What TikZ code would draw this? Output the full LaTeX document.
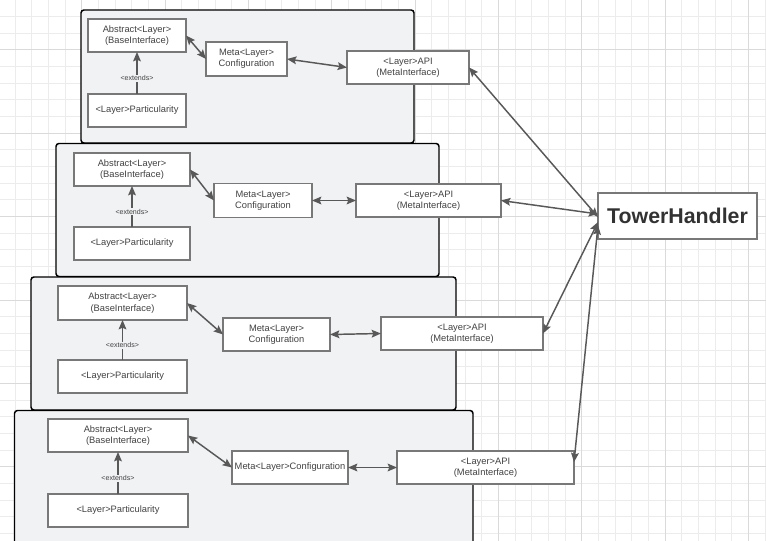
\documentclass[tikz,border=0pt]{standalone}
\usepackage{fontspec}
\setmainfont{Liberation Sans}
\usetikzlibrary{arrows.meta,calc}
\definecolor{gridminor}{RGB}{236,236,236}
\definecolor{gridmajor}{RGB}{218,218,218}
\definecolor{contfill}{RGB}{241,242,244}
\definecolor{boxline}{RGB}{120,120,120}
\definecolor{txt}{RGB}{66,66,66}
\definecolor{conncol}{RGB}{88,88,88}
\definecolor{towertxt}{RGB}{50,50,50}
\tikzset{
  box/.style 2 args={draw=boxline, line width=1pt, fill=white, inner sep=0pt, outer sep=0pt,
    minimum width=#1*0.75pt, minimum height=#2*0.75pt, align=center, text=txt,
    font=\fontsize{7}{8.6}\selectfont},
  cont/.style={draw=black, line width=1.1pt, fill=contfill, rounded corners=2.2pt},
  conn/.style={draw=conncol, line width=1.1pt,
    {Stealth[length=7pt,width=5.8pt,inset=1.2pt]}-{Stealth[length=7pt,width=5.8pt,inset=1.2pt]}},
  ext/.style={draw=conncol, line width=1.1pt, -{Stealth[length=7pt,width=5.8pt,inset=1.2pt]}},
  extlabel/.style={fill=contfill, inner sep=0.6pt, text=txt, pos=0.37,
    font=\fontsize{5.3}{6}\selectfont},
  tower/.style={draw=boxline, line width=1.5pt, fill=white, inner sep=0pt, outer sep=0pt,
    minimum width=119.25pt, minimum height=34.5pt, text=towertxt,
    font=\fontsize{16}{19}\selectfont\bfseries}
}
\begin{document}
\begin{tikzpicture}[x=0.75pt,y=-0.75pt]
\useasboundingbox (0,0) rectangle (766,541);
% grid
\foreach \gx in {-1.5,15.1667,...,770} \draw[gridminor, line width=0.75pt] (\gx,0) -- (\gx,541);
\foreach \gy in {0,16.6667,...,545} \draw[gridminor, line width=0.75pt] (0,\gy) -- (766,\gy);
\foreach \gx in {-1.5,81.8333,...,770} \draw[gridmajor, line width=0.75pt] (\gx,0) -- (\gx,541);
\foreach \gy in {50,133.3333,...,545} \draw[gridmajor, line width=0.75pt] (0,\gy) -- (766,\gy);
% containers
\draw[cont] (81,10) rectangle (414,143);
\draw[cont] (56,143.5) rectangle (439,276.5);
\draw[cont] (31,277) rectangle (456,410);
\draw[cont] (14.5,410.5) rectangle (473,570);
% layer 1
\node[box={98}{33}] (a1) at (137,35.5) {Abstract<Layer>\\(BaseInterface)};
\node[box={98}{33}] (p1) at (137,110.5) {<Layer>Particularity};
\node[box={81}{34}] (m1) at (246.5,59) {Meta<Layer>\\Configuration};
\node[box={122}{33}] (api1) at (408,67.5) {<Layer>API\\(MetaInterface)};
% layer 2
\node[box={116}{33}] (a2) at (132,169.5) {Abstract<Layer>\\(BaseInterface)};
\node[box={116}{33}] (p2) at (132,243.5) {<Layer>Particularity};
\node[box={98}{34}] (m2) at (263,200.5) {Meta<Layer>\\Configuration};
\node[box={145}{33}] (api2) at (428.5,200.5) {<Layer>API\\(MetaInterface)};
% layer 3
\node[box={129}{34}] (a3) at (122.5,303) {Abstract<Layer>\\(BaseInterface)};
\node[box={129}{33}] (p3) at (122.5,376.5) {<Layer>Particularity};
\node[box={107}{33}] (m3) at (276.5,334.5) {Meta<Layer>\\Configuration};
\node[box={162}{33}] (api3) at (462,333.5) {<Layer>API\\(MetaInterface)};
% layer 4
\node[box={140}{33}] (a4) at (118,435.5) {Abstract<Layer>\\(BaseInterface)};
\node[box={140}{33}] (p4) at (118,510.5) {<Layer>Particularity};
\node[box={116}{33}] (m4) at (290,467.5) {Meta<Layer>Configuration};
\node[box={177}{33}] (api4) at (485.5,467.5) {<Layer>API\\(MetaInterface)};
% tower
\node[tower] (th) at (677.5,216) {TowerHandler};
% extends
\draw[ext] (p1.north) -- node[extlabel]{<extends>} (a1.south);
\draw[ext] (p2.north) -- node[extlabel]{<extends>} (a2.south);
\draw[ext] (p3.north) -- node[extlabel]{<extends>} (a3.south);
\draw[ext] (p4.north) -- node[extlabel]{<extends>} (a4.south);
% abstract <-> meta
\draw[conn] (a1.east) -- (m1.west);
\draw[conn] (a2.east) -- (m2.west);
\draw[conn] (a3.east) -- (m3.west);
\draw[conn] (a4.east) -- (m4.west);
% meta <-> api
\draw[conn] (m1.east) -- (api1.west);
\draw[conn] (m2.east) -- (api2.west);
\draw[conn] (m3.east) -- (api3.west);
\draw[conn] (m4.east) -- (api4.west);
% api <-> tower
\draw[conn] (api1.east) -- ([yshift=-0.8pt]th.west);
\draw[conn] (api2.east) -- ([yshift=1.5pt]th.west);
\draw[conn] (api3.east) -- ([yshift=-4.5pt]th.west);
\draw[conn] ([yshift=4pt]api4.east) -- ([yshift=-7pt]th.west);
\end{tikzpicture}
\end{document}
